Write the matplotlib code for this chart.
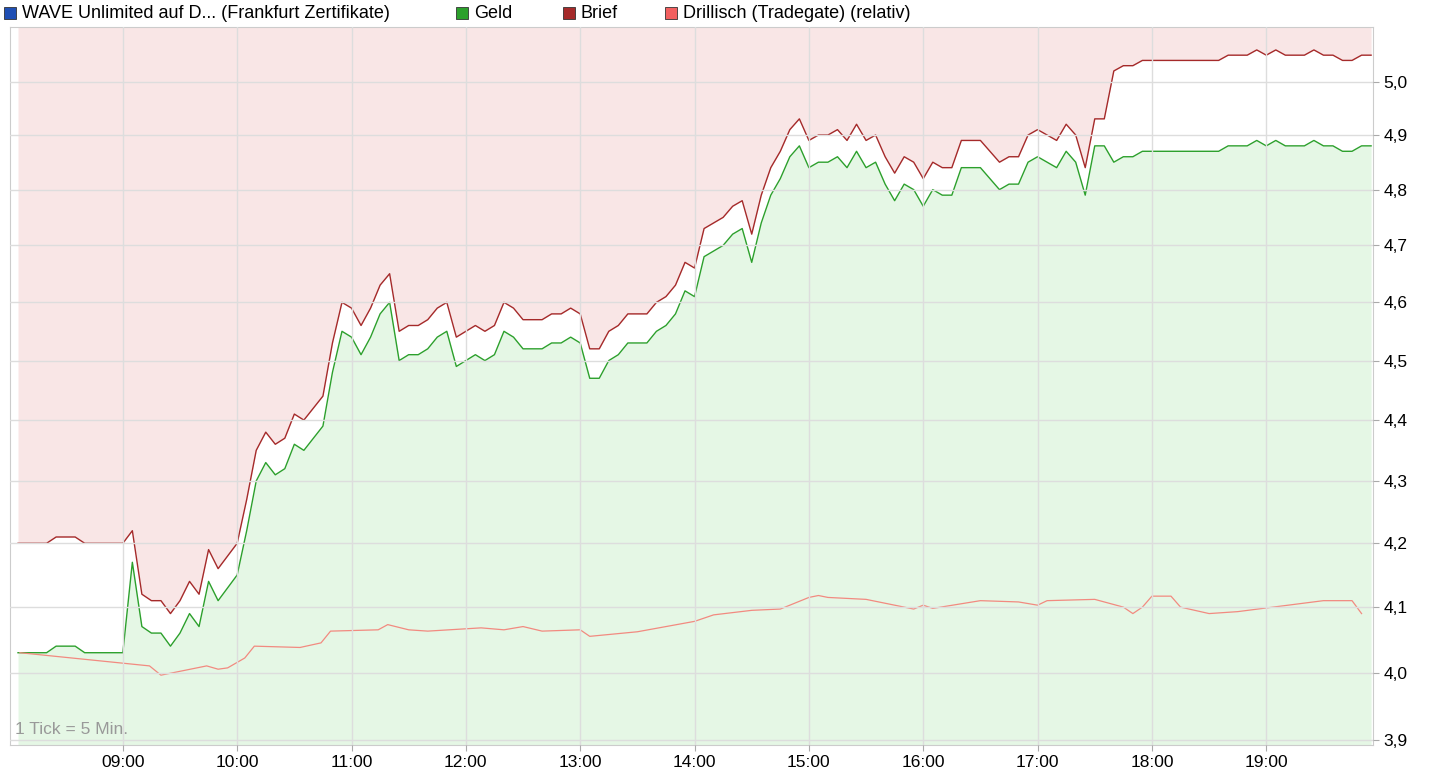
import numpy as np
import matplotlib
matplotlib.use("Agg")
import matplotlib.pyplot as plt
import matplotlib.patches as patches
from matplotlib.ticker import FixedLocator, NullLocator

plt.rcParams['font.family'] = ['Liberation Sans', 'DejaVu Sans']

# 5-Minuten-Ticks ab 08:05 (Minuten seit Mitternacht)
START_MIN = 485
brief = [4.20, 4.20, 4.20, 4.20, 4.21, 4.21, 4.21, 4.20, 4.20, 4.20, 4.20, 4.20,
         4.22, 4.12, 4.11, 4.11, 4.09, 4.11, 4.14, 4.12, 4.19, 4.16, 4.18, 4.20,
         4.27, 4.35, 4.38, 4.36, 4.37, 4.41, 4.40, 4.42, 4.44, 4.53, 4.60, 4.59,
         4.56, 4.59, 4.63, 4.65, 4.55, 4.56, 4.56, 4.57, 4.59, 4.60, 4.54, 4.55,
         4.56, 4.55, 4.56, 4.60, 4.59, 4.57, 4.57, 4.57, 4.58, 4.58, 4.59, 4.58,
         4.52, 4.52, 4.55, 4.56, 4.58, 4.58, 4.58, 4.60, 4.61, 4.63, 4.67, 4.66,
         4.73, 4.74, 4.75, 4.77, 4.78, 4.72, 4.79, 4.84, 4.87, 4.91, 4.93, 4.89,
         4.90, 4.90, 4.91, 4.89, 4.92, 4.89, 4.90, 4.86, 4.83, 4.86, 4.85, 4.82,
         4.85, 4.84, 4.84, 4.89, 4.89, 4.89, 4.87, 4.85, 4.86, 4.86, 4.90, 4.91,
         4.90, 4.89, 4.92, 4.90, 4.84, 4.93, 4.93, 5.02, 5.03, 5.03, 5.04, 5.04,
         5.04, 5.04, 5.04, 5.04, 5.04, 5.04, 5.04, 5.05, 5.05, 5.05, 5.06, 5.05,
         5.06, 5.05, 5.05, 5.05, 5.06, 5.05, 5.05, 5.04, 5.04, 5.05, 5.05]
geld = [4.03, 4.03, 4.03, 4.03, 4.04, 4.04, 4.04, 4.03, 4.03, 4.03, 4.03, 4.03,
        4.17, 4.07, 4.06, 4.06, 4.04, 4.06, 4.09, 4.07, 4.14, 4.11, 4.13, 4.15,
        4.22, 4.30, 4.33, 4.31, 4.32, 4.36, 4.35, 4.37, 4.39, 4.48, 4.55, 4.54,
        4.51, 4.54, 4.58, 4.60, 4.50, 4.51, 4.51, 4.52, 4.54, 4.55, 4.49, 4.50,
        4.51, 4.50, 4.51, 4.55, 4.54, 4.52, 4.52, 4.52, 4.53, 4.53, 4.54, 4.53,
        4.47, 4.47, 4.50, 4.51, 4.53, 4.53, 4.53, 4.55, 4.56, 4.58, 4.62, 4.61,
        4.68, 4.69, 4.70, 4.72, 4.73, 4.67, 4.74, 4.79, 4.82, 4.86, 4.88, 4.84,
        4.85, 4.85, 4.86, 4.84, 4.87, 4.84, 4.85, 4.81, 4.78, 4.81, 4.80, 4.77,
        4.80, 4.79, 4.79, 4.84, 4.84, 4.84, 4.82, 4.80, 4.81, 4.81, 4.85, 4.86,
        4.85, 4.84, 4.87, 4.85, 4.79, 4.88, 4.88, 4.85, 4.86, 4.86, 4.87, 4.87,
        4.87, 4.87, 4.87, 4.87, 4.87, 4.87, 4.87, 4.88, 4.88, 4.88, 4.89, 4.88,
        4.89, 4.88, 4.88, 4.88, 4.89, 4.88, 4.88, 4.87, 4.87, 4.88, 4.88]

# Drillisch (Tradegate), relativ
rel_min = [486, 554, 560, 584, 590, 595, 604, 609, 633, 644, 649, 674, 679, 690,
           700, 728, 740, 750, 760, 780, 785, 810, 840, 850, 870, 885, 900, 905,
           910, 930, 955, 960, 965, 990, 1010, 1020, 1025, 1050, 1065, 1070, 1075,
           1080, 1090, 1095, 1110, 1125, 1170, 1185, 1190]
rel_val = [4.030, 4.010, 3.996, 4.010, 4.005, 4.007, 4.022, 4.040, 4.038, 4.045,
           4.063, 4.065, 4.073, 4.065, 4.063, 4.068, 4.065, 4.070, 4.063, 4.065,
           4.055, 4.062, 4.078, 4.088, 4.095, 4.097, 4.115, 4.118, 4.115, 4.112,
           4.097, 4.103, 4.098, 4.110, 4.108, 4.103, 4.110, 4.112, 4.100, 4.090,
           4.100, 4.117, 4.117, 4.100, 4.090, 4.093, 4.110, 4.110, 4.090]

hour_ticks = list(range(9, 20))
y_ticks = [3.9, 4.0, 4.1, 4.2, 4.3, 4.4, 4.5, 4.6, 4.7, 4.8, 4.9, 5.0]

t = START_MIN + 5 * np.arange(len(brief))

fig = plt.figure(figsize=(14.52, 7.8), dpi=100)
ax = fig.add_axes([10 / 1452, 1 - 745 / 780, 1363 / 1452, 718 / 780])

ymin, ymax = 3.892, 5.104
ax.set_yscale('log')
ax.set_xlim(480.8, 1196)
ax.set_ylim(ymin, ymax)

ax.fill_between(t, brief, ymax, color='#f9e6e6', lw=0)
ax.fill_between(t, ymin, geld, color='#e5f7e5', lw=0)
ax.plot(t, brief, color='#a52a2a', lw=1)
ax.plot(t, geld, color='#2ca02c', lw=1)
ax.plot(rel_min, rel_val, color='#f28a80', lw=0.9)

ax.yaxis.set_major_locator(FixedLocator(y_ticks))
ax.yaxis.set_minor_locator(NullLocator())
ax.set_yticklabels([f"{v:.1f}".replace('.', ',') for v in y_ticks])
ax.yaxis.tick_right()
ax.set_xticks([h * 60 for h in hour_ticks])
ax.set_xticklabels([f"{h:02d}:00" for h in hour_ticks])
ax.tick_params(labelsize=12.5, length=4, color='#aaaaaa')
ax.grid(True, color='#dddddd', lw=1)
ax.set_axisbelow(False)
for sp in ax.spines.values():
    sp.set_color('#cccccc')

ax.text(0.004, 0.015, "1 Tick = 5 Min.", transform=ax.transAxes,
        color='#999999', fontsize=12.5)

# Legende oben
items = [("WAVE Unlimited auf D... (Frankfurt Zertifikate)", '#1f4fb4', 4),
         ("Geld", '#2ca02c', 456),
         ("Brief", '#a52a2a', 563),
         ("Drillisch (Tradegate) (relativ)", '#f26060', 665)]
for label, col, px in items:
    fig.patches.append(patches.Rectangle((px / 1452, 1 - 19 / 780), 12 / 1452, 12 / 780,
                                         transform=fig.transFigure, facecolor=col,
                                         edgecolor='#333333', lw=0.6))
    fig.text((px + 18) / 1452, 1 - 13 / 780, label, fontsize=13, va='center')

fig.savefig("out.png", dpi=100)
